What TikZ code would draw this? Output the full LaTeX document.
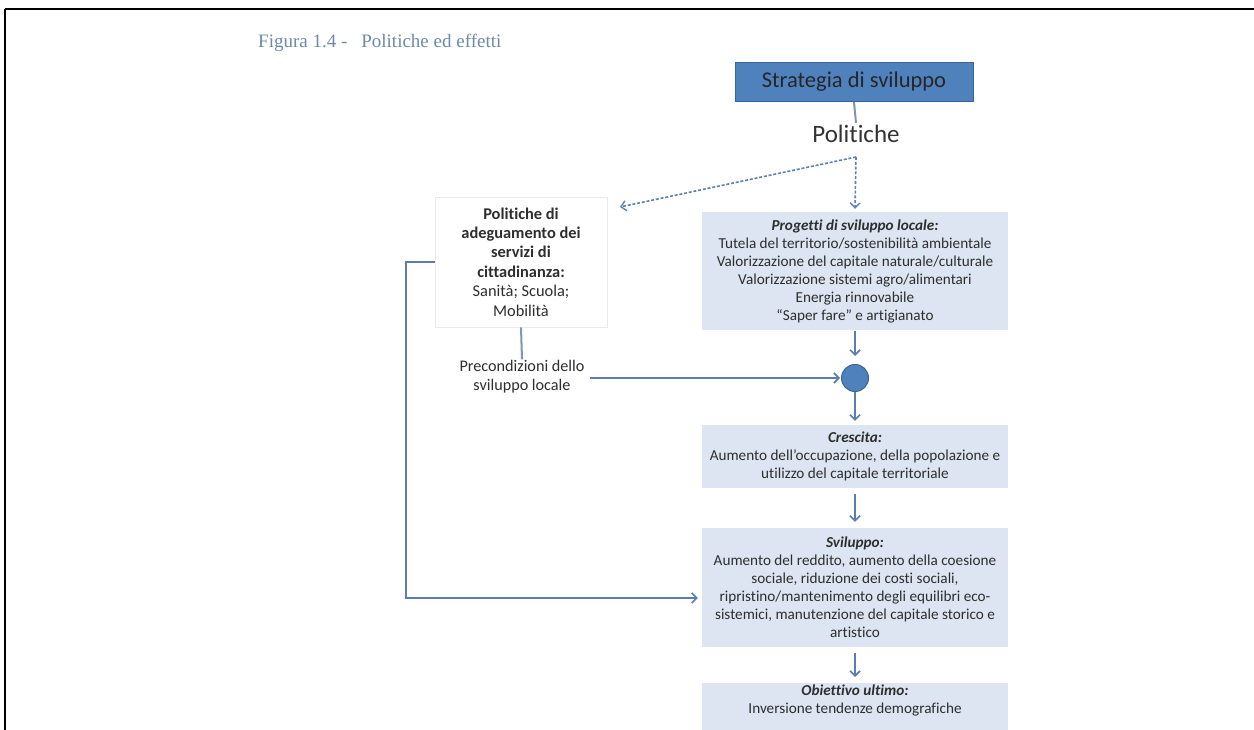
\documentclass[tikz,border=0pt]{standalone}
\usepackage{fontspec}
\setmainfont{Carlito}[Ligatures=NoCommon]
\newfontfamily\titlefont{Liberation Serif}
\usetikzlibrary{arrows.meta,positioning}
\definecolor{boxfill}{HTML}{DCE5F1}
\definecolor{stratfill}{HTML}{4F81BD}
\definecolor{stratdraw}{HTML}{3B6496}
\definecolor{arrcol}{HTML}{5B7DB1}
\definecolor{dashcol}{HTML}{5F82B4}
\definecolor{txtcol}{HTML}{2E2E2E}
\definecolor{titlecol}{HTML}{6F8AA6}
\definecolor{linecol}{HTML}{7F95B3}
\tikzset{
  bluebox/.style={fill=boxfill, draw=none, inner sep=0pt, align=center, text=txtcol,
    minimum width=306pt, font=\fontsize{15.2}{18}\selectfont},
  arr/.style={draw=arrcol, line width=1.8pt, -{Straight Barb[length=5pt,width=10pt,line width=1.6pt]}},
  dasharr/.style={draw=dashcol, line width=1.6pt, dash pattern=on 3pt off 1.8pt,
    -{Straight Barb[length=5pt,width=10pt,line width=1.4pt]}},
  plainline/.style={draw=linecol, line width=2pt},
}
\begin{document}
\begin{tikzpicture}[x=1pt,y=-1pt]
\useasboundingbox (0,0) rectangle (1254,730);
\fill[white] (0,0) rectangle (1254,730);
% frame
\draw[line width=2.4pt] (5,9) -- (1254,9);
\draw[line width=2.4pt] (5,9) -- (5,730);
% title
\node[anchor=west, inner sep=0pt, text=titlecol, font=\titlefont\fontsize{19}{21}\selectfont] (title) at (258,43) {Figura 1.4 -\hspace{14pt}Politiche ed effetti};
% strategy box
\node[fill=stratfill, draw=stratdraw, line width=1pt, minimum width=238pt, minimum height=39pt, inner sep=0pt,
  text=black!85, font=\fontsize{22.5}{24}\selectfont] (strat) at (854,82) {Strategia di sviluppo};
\node[inner sep=2pt, text=black!80, font=\fontsize{25}{26}\selectfont] (pol) at (856,134) {Politiche};
\draw[plainline] (strat.south) -- (pol.north);
\coordinate (c) at (856,157);
% projects
\node[bluebox, minimum height=118pt] (proj) at (855,271) {\textbf{\textit{Progetti di sviluppo locale:}}\\
Tutela del territorio/sostenibilità ambientale\\
Valorizzazione del capitale naturale/culturale\\
Valorizzazione sistemi agro/alimentari\\
Energia rinnovabile\\
“Saper fare” e artigianato};
% left box
\node[fill=white, draw=black!8, line width=0.8pt, minimum width=172pt, minimum height=130pt, inner sep=0pt,
  align=center, text=txtcol, font=\fontsize{16.4}{19.4}\selectfont] (left) at (521,262)
  {\textbf{Politiche di}\\ \textbf{adeguamento dei}\\ \textbf{servizi di}\\ \textbf{cittadinanza:}\\ Sanità; Scuola;\\ Mobilità};
\coordinate (ltip) at (620,207);
\draw[dasharr] (c) -- (ltip);
\draw[dasharr] (c) -- ([yshift=3pt]proj.north);
% precondizioni
\node[inner sep=1pt, align=center, text=txtcol, font=\fontsize{16.2}{19}\selectfont] (prec) at (522,377) {Precondizioni dello\\ sviluppo locale};
\draw[plainline] (left.south) -- (prec.north);
% circle
\node[circle, fill=stratfill, draw=stratdraw, line width=1pt, minimum size=27pt, inner sep=0pt] (circ) at (855,378) {};
\draw[arr, shorten <=1pt, shorten >=8pt] (proj.south) -- (circ.north);
\draw[arr, shorten >=1pt] ([xshift=4pt]prec.east |- circ.west) -- (circ.west);
% crescita
\node[bluebox, minimum height=63pt] (cresc) at (855,456.5) {\textbf{\textit{Crescita:}}\\
Aumento dell’occupazione, della popolazione e\\ utilizzo del capitale territoriale};
\draw[arr, shorten >=4pt] (circ.south) -- (cresc.north);
% sviluppo
\node[bluebox, minimum height=119pt] (svil) at (855,587.5) {\textbf{\textit{Sviluppo:}}\\
Aumento del reddito, aumento della coesione\\
sociale, riduzione dei costi sociali,\\
ripristino/mantenimento degli equilibri eco-\\
sistemici, manutenzione del capitale storico e\\
artistico};
\draw[arr, shorten <=6pt, shorten >=6pt] (cresc.south) -- (svil.north);
% obiettivo
\node[bluebox, minimum height=60pt, anchor=north] (obj) at (855,683) {\textbf{\textit{Obiettivo ultimo:}}\\
Inversione tendenze demografiche\\[10pt]\mbox{}};
\draw[arr, shorten <=6pt, shorten >=6pt] (svil.south) -- (obj.north);
% feedback
\coordinate (fbtop) at (406,262);
\coordinate (fbbot) at (406,598);
\draw[arr, shorten >=4pt] (left.west) -- (fbtop) -- (fbbot) -- (svil.west |- fbbot);
\end{tikzpicture}
\end{document}
